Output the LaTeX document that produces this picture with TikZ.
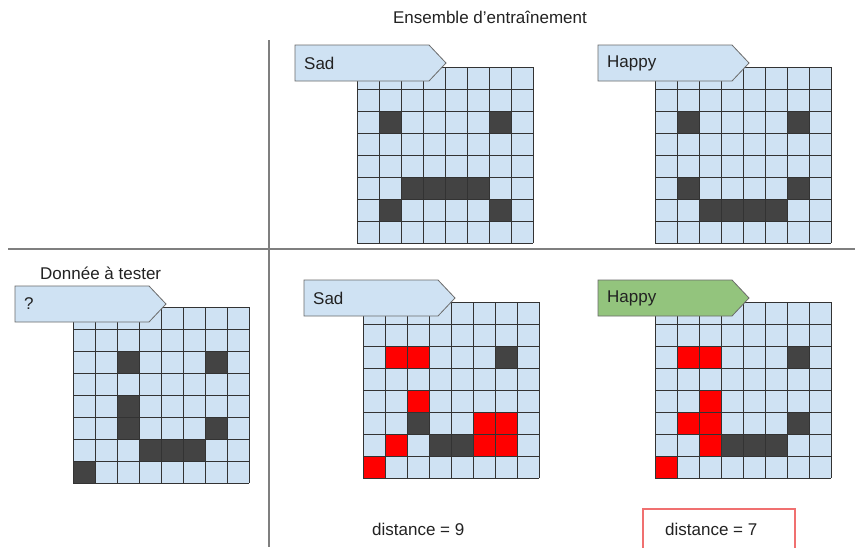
\documentclass[tikz,border=0pt]{standalone}
\usepackage{fontspec}
\setmainfont{Liberation Sans}
\definecolor{cellblue}{HTML}{CFE2F3}
\definecolor{celldark}{HTML}{434343}
\definecolor{cellred}{HTML}{FF0000}
\definecolor{labgreen}{HTML}{93C47D}
\definecolor{sepgray}{HTML}{7F7F7F}
\definecolor{boxred}{HTML}{F07070}
\definecolor{gridline}{HTML}{333333}
\definecolor{labborder}{HTML}{6B6B6B}
\definecolor{txt}{HTML}{222222}

\newcommand\mygrid[3]{%
  \begin{scope}[shift={(#1,#2)}]
    \fill[cellblue] (0,0) rectangle (176,176);
    \foreach \r/\c in {#3} \fill[celldark] (\c*22,\r*22) rectangle ++(22,22);
  \end{scope}}
\newcommand\myred[3]{%
  \begin{scope}[shift={(#1,#2)}]
    \foreach \r/\c in {#3} \fill[cellred] (\c*22,\r*22) rectangle ++(22,22);
  \end{scope}}
\newcommand\mylines[2]{%
  \begin{scope}[shift={(#1,#2)}]
    \foreach \k in {0,...,8} {
      \draw[gridstroke] (\k*22,0) -- (\k*22,176);
      \draw[gridstroke] (0,\k*22) -- (176,\k*22);
    }
  \end{scope}}
\newcommand\mytag[5]{% name, x, y, fill, text
  \draw[tagstroke, fill=#4] (#2,#3) -- ++(134,0) -- ++(17,18) -- ++(-17,18) -- ++(-134,0) -- cycle;
  \node[tagtext] (#1) at ($(#2,#3)+(9,18)$) {#5};}

\usetikzlibrary{calc}

\begin{document}
\begin{tikzpicture}[x=1pt,y=-1pt,
  gridstroke/.style={draw=gridline, line width=1pt},
  tagstroke/.style={draw=labborder, line width=0.8pt, line join=miter},
  tagtext/.style={anchor=west, inner sep=0pt, text=txt, font=\fontsize{17}{19}\selectfont},
  plaintext/.style={inner sep=0pt, text=txt, font=\fontsize{17}{19}\selectfont},
  sepline/.style={draw=sepgray, line width=1.2pt}]
\useasboundingbox (0,0) rectangle (855,547);
\fill[white] (0,0) rectangle (855,547);

% separators
\draw[sepline] (269,40) -- (269,547);
\draw[sepline] (8,249) -- (855,249);

% title texts
\node[plaintext] (title) at (490,17) {Ensemble d’entraînement};
\node[plaintext, anchor=west] (test) at (40,273) {Donnée à tester};

% top sad
\mygrid{357}{67}{2/1,2/6,5/2,5/3,5/4,5/5,6/1,6/6}
\mylines{357}{67}
\mytag{tsad}{295}{45}{cellblue}{Sad}

% top happy
\mygrid{655}{67}{2/1,2/6,5/1,5/6,6/2,6/3,6/4,6/5}
\mylines{655}{67}
\mytag{thappy}{598}{45}{cellblue}{Happy}

% test
\mygrid{73}{307}{2/2,2/6,4/2,5/2,5/6,6/3,6/4,6/5,7/0}
\mylines{73}{307}
\mytag{tq}{15}{286}{cellblue}{?}

% bottom sad
\mygrid{363}{302}{2/6,5/2,6/3,6/4}
\myred{363}{302}{2/1,2/2,4/2,5/5,5/6,6/1,6/5,6/6,7/0}
\mylines{363}{302}
\mytag{bsad}{304}{280}{cellblue}{Sad}

% bottom happy
\mygrid{655}{302}{2/6,5/6,6/3,6/4,6/5}
\myred{655}{302}{2/1,2/2,4/2,5/1,5/2,6/2,7/0}
\mylines{655}{302}
\mytag{bhappy}{598}{280}{labgreen}{Happy}

% distances
\node[plaintext, anchor=west] (d9) at (372,529) {distance = 9};
\draw[draw=boxred, line width=1.2pt] (643,509) rectangle (795,549);
\node[plaintext, anchor=west] (d7) at (665,529) {distance = 7};
\end{tikzpicture}
\end{document}
